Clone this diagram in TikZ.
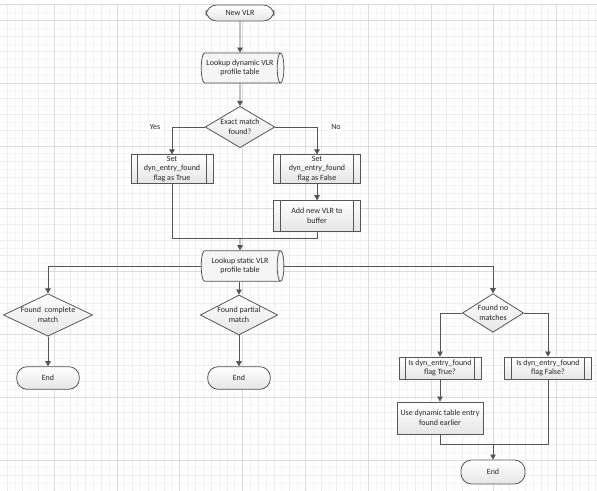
\documentclass[tikz,border=0pt]{standalone}
\usepackage{fontspec}
\setmainfont{Carlito}
\usetikzlibrary{shapes.geometric,arrows.meta,calc}
\definecolor{ln}{HTML}{555555}
\definecolor{gmin}{HTML}{F5F5F5}
\definecolor{gmed}{HTML}{EDEDED}
\definecolor{gmaj}{HTML}{DCDCDC}
\begin{document}
\begin{tikzpicture}[x=0.75pt,y=-0.75pt,
  every node/.style={font=\fontsize{6}{7.2}\selectfont, align=center, text=black!85},
  base/.style={draw=ln, line width=0.6pt, top color=white, bottom color=black!10, inner sep=1pt},
  term/.style={base, rectangle, rounded corners=8pt},
  procbox/.style={base, rectangle},
  subproc/.style={base, rectangle, path picture={
     \draw[ln, line width=0.5pt] ([xshift=5pt]path picture bounding box.north west) -- ([xshift=5pt]path picture bounding box.south west);
     \draw[ln, line width=0.5pt] ([xshift=-5pt]path picture bounding box.north east) -- ([xshift=-5pt]path picture bounding box.south east);}},
  decision/.style={base, diamond, aspect=2, inner sep=0pt},
  dbase/.style={draw=ln, line width=0.6pt, cylinder, shape aspect=0.35, fill=black!4, inner sep=1pt},
  conn/.style={draw=ln, line width=0.6pt},
  arr/.style={conn, -{Triangle[length=3.8pt,width=4.2pt]}},
  lbl/.style={fill=white, inner sep=1.5pt}
]
\useasboundingbox (0,0) rectangle (597,491);
\fill[white] (0,0) rectangle (597,491);
% grid
\foreach \i in {0,...,75} { \draw[gmin, line width=0.3pt] ({6.9+\i*7.85},4.5) -- ({6.9+\i*7.85},491); }
\foreach \j in {0,...,62} { \draw[gmin, line width=0.3pt] (0,{4.5+\j*7.85}) -- (597,{4.5+\j*7.85}); }
\foreach \i in {0,...,37} { \draw[gmed, line width=0.3pt] ({6.9+\i*15.7},4.5) -- ({6.9+\i*15.7},491); }
\foreach \j in {0,...,31} { \draw[gmed, line width=0.3pt] (0,{4.5+\j*15.7}) -- (597,{4.5+\j*15.7}); }
\foreach \i in {0,...,9} { \draw[gmaj, line width=0.4pt] ({-8.8+\i*62.8},4.5) -- ({-8.8+\i*62.8},491); }
\foreach \j in {0,...,7} { \draw[gmaj, line width=0.4pt] (0,{20.2+\j*62.8}) -- (597,{20.2+\j*62.8}); }
\draw[gmaj, line width=0.6pt] (0,4.5) -- (597,4.5);

% nodes
\node[term, minimum width=51pt, minimum height=12pt] (new) at (240,13) {New VLR};
\node[dbase, minimum height=62pt, minimum width=22.5pt] (dyn) at (240,68) {Lookup dynamic VLR\\profile table};
\node[decision, minimum width=42pt, minimum height=31pt] (exact) at (240,127) {Exact match\\found?};
\node[subproc, minimum width=61.5pt, minimum height=21pt] (setT) at (172,169) {Set\\dyn\_entry\_found\\flag as True};
\node[subproc, minimum width=65pt, minimum height=21pt] (setF) at (317,169) {Set\\dyn\_entry\_found\\flag as False};
\node[subproc, minimum width=65pt, minimum height=23pt] (add) at (317,216) {Add new VLR to\\buffer};
\node[dbase, minimum height=62pt, minimum width=23pt] (stat) at (240,266) {Lookup static VLR\\profile table};
\node[decision, minimum width=67pt, minimum height=30pt] (fcm) at (48,315) {Found\ \ complete\\match};
\node[decision, minimum width=58pt, minimum height=30pt] (fpm) at (239,315) {Found partial\\match};
\node[decision, minimum width=44pt, minimum height=29pt] (fnm) at (493,313) {Found no\\matches};
\node[term, minimum width=47pt, minimum height=17pt] (end1) at (48,378) {End};
\node[term, minimum width=47pt, minimum height=17pt] (end2) at (239,378) {End};
\node[subproc, minimum width=61.5pt, minimum height=16.5pt] (isT) at (440,368) {Is dyn\_entry\_found\\flag True?};
\node[subproc, minimum width=65pt, minimum height=16.5pt] (isF) at (548,368) {Is dyn\_entry\_found\\flag False?};
\node[procbox, minimum width=64.5pt, minimum height=24pt] (use) at (440,418) {Use dynamic table entry\\found earlier};
\node[term, minimum width=48pt, minimum height=18pt] (end3) at (493,472) {End};

\node[lbl] (yes) at (155,127) {Yes};
\node[lbl] (no) at (336,127) {No};

\coordinate (m1) at (240,238);
\coordinate (m2) at (493,444);

% connectors
\draw[arr] (new) -- (dyn);
\draw[arr] (dyn) -- (exact);
\draw[arr] (exact.west) -| (setT.north);
\draw[arr] (exact.east) -| (setF.north);
\draw[arr] (setF) -- (add);
\draw[conn] (setT.south) |- (m1);
\draw[conn] (add.south) |- (m1);
\draw[arr] (m1) -- (stat.north);
\draw[arr] (stat.west) -| (fcm.north);
\draw[arr] (stat.east) -| (fnm.north);
\draw[arr] (stat.south -| fpm.north) -- (fpm.north);
\draw[arr] (fcm) -- (end1);
\draw[arr] (fpm) -- (end2);
\draw[arr] (fnm.west) -| (isT.north);
\draw[arr] (fnm.east) -| (isF.north);
\draw[arr] (isT) -- (use);
\draw[conn] (use.south) |- (m2);
\draw[conn] (isF.south) |- (m2);
\draw[arr] (m2) -- (end3);
\end{tikzpicture}
\end{document}
